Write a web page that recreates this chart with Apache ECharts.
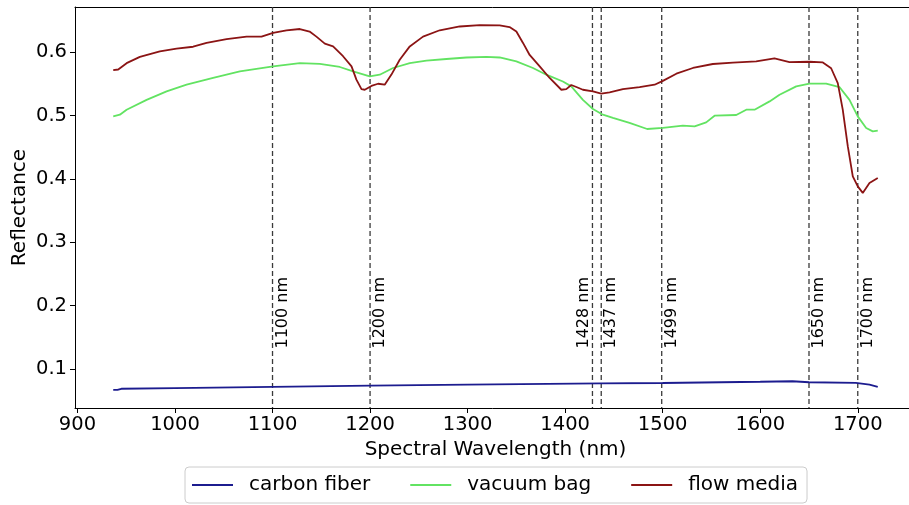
<!DOCTYPE html>
<html>
<head>
<meta charset="utf-8">
<script src="https://cdn.jsdelivr.net/npm/echarts@6/dist/echarts.min.js"></script>
<style>html,body{margin:0;padding:0;background:#fff}#c{width:909px;height:505px}</style>
</head>
<body>
<div id="c"></div>
<script>
// ---- data ----
const xTicks = [900, 1000, 1100, 1200, 1300, 1400, 1500, 1600, 1700];
const yTicks = [0.1, 0.2, 0.3, 0.4, 0.5, 0.6];

const carbonX = [936.7, 941, 945, 1000, 1100, 1200, 1300, 1437, 1500, 1600, 1633, 1650, 1698, 1712, 1720.5];
const carbonY = [0.0668, 0.0665, 0.0684, 0.0695, 0.0715, 0.0735, 0.075, 0.0768, 0.0775, 0.0795, 0.0803, 0.0787, 0.0777, 0.075, 0.0714];

const bagX = [936.7, 943.5, 950.4, 970.9, 991.4, 1011.9, 1039.1, 1066.5, 1100.6, 1128, 1148.5, 1169, 1182.6, 1199.7, 1209.9, 1223.6, 1240.7, 1257.8, 1278.3, 1298.8, 1319.3, 1332.9, 1350, 1367, 1380.7, 1397.7, 1406.3, 1418.2, 1428.5, 1438.7, 1449, 1466, 1484.1, 1500.2, 1520.7, 1532.7, 1544.6, 1553.2, 1575.4, 1585.7, 1594.2, 1609.6, 1619.8, 1636.9, 1650.5, 1667.6, 1681.2, 1691.5, 1700, 1708.6, 1715.4, 1720.5];
const bagY = [0.499, 0.5016, 0.5095, 0.525, 0.5384, 0.549, 0.5596, 0.570, 0.578, 0.583, 0.582, 0.577, 0.570, 0.562, 0.5648, 0.5754, 0.583, 0.587, 0.5896, 0.592, 0.593, 0.592, 0.5858, 0.5754, 0.5648, 0.554, 0.5463, 0.525, 0.5106, 0.5016, 0.4964, 0.4885, 0.479, 0.4806, 0.4842, 0.4831, 0.4894, 0.500, 0.5011, 0.5095, 0.5095, 0.5226, 0.5332, 0.5463, 0.5506, 0.5506, 0.5453, 0.525, 0.4989, 0.4806, 0.4752, 0.4763];

const mediaX = [936.7, 941.8, 950.4, 964, 984.5, 1001.6, 1018.6, 1032.4, 1052.9, 1073.4, 1088.7, 1100.6, 1114.3, 1128, 1138, 1145, 1153.6, 1162.1, 1172.3, 1181, 1186, 1191.2, 1194.6, 1201.4, 1208.2, 1215, 1221.9, 1230.4, 1240.7, 1254.3, 1271.4, 1292, 1312.4, 1332.9, 1343, 1350, 1356.8, 1363.6, 1373.9, 1384.1, 1396.1, 1401.2, 1406.3, 1411.5, 1418.2, 1428.5, 1437, 1445.6, 1459.2, 1476.3, 1491.7, 1500.2, 1514, 1531, 1551.4, 1572, 1595.9, 1614.6, 1630, 1650.5, 1664.2, 1672.7, 1679.5, 1684.6, 1689.8, 1694.9, 1700, 1705.1, 1712, 1720.5];
const mediaY = [0.572, 0.573, 0.583, 0.593, 0.6016, 0.606, 0.609, 0.615, 0.621, 0.625, 0.625, 0.631, 0.635, 0.637, 0.633, 0.625, 0.614, 0.6095, 0.594, 0.578, 0.557, 0.542, 0.541, 0.547, 0.5505, 0.549, 0.565, 0.5885, 0.6095, 0.625, 0.635, 0.641, 0.643, 0.6427, 0.640, 0.633, 0.615, 0.596, 0.578, 0.5596, 0.541, 0.542, 0.5485, 0.5453, 0.541, 0.5384, 0.5348, 0.5368, 0.542, 0.5453, 0.549, 0.555, 0.5664, 0.5754, 0.5817, 0.584, 0.5858, 0.5905, 0.5848, 0.5853, 0.5842, 0.575, 0.5516, 0.5095, 0.4515, 0.404, 0.3883, 0.378, 0.3937, 0.4016];

const markerWavelengths = [1100, 1200, 1428, 1437, 1499, 1650, 1700];
const markerLabels = ['1100 nm', '1200 nm', '1428 nm', '1437 nm', '1499 nm', '1650 nm', '1700 nm'];
const seriesNames = ['carbon fiber', 'vacuum bag', 'flow media'];
// ---- end data ----

const X_MIN = 897.5, X_MAX = 1759.7, Y_MIN = 0.038, Y_MAX = 0.6718;
const LABEL_Y = 0.132;
const leftLabeled = [1428];
const FONT = '"DejaVu Sans", sans-serif';

function zip(xs, ys) { return xs.map((x, i) => [x, ys[i]]); }

const chart = echarts.init(document.getElementById('c'), null, {renderer: 'canvas'});

const lineSeries = (name, xs, ys, color) => ({
  type: 'line', name, data: zip(xs, ys), showSymbol: false, symbol: 'none',
  lineStyle: {color, width: 1.8}, itemStyle: {color}, z: 3, animation: false
});

chart.setOption({
  animation: false,
  grid: {left: 75, top: 7, right: -7, bottom: 97, show: false, containLabel: false, outerBoundsMode: 'none'},
  xAxis: [{
    type: 'value', min: X_MIN, max: X_MAX,
    name: 'Spectral Wavelength (nm)', nameLocation: 'middle', nameGap: 30,
    nameTextStyle: {fontFamily: FONT, fontSize: 20, color: '#000'},
    axisLine: {show: true, lineStyle: {color: '#000', width: 1}},
    axisTick: {show: true, length: 5, lineStyle: {color: '#000'}, customValues: xTicks},
    axisLabel: {fontFamily: FONT, fontSize: 19.5, color: '#000', margin: 7, customValues: xTicks, formatter: v => String(Math.round(v))},
    splitLine: {show: false}
  }, {
    type: 'value', min: X_MIN, max: X_MAX, position: 'top',
    axisLine: {show: true, lineStyle: {color: '#000', width: 1}},
    axisTick: {show: false}, axisLabel: {show: false}, splitLine: {show: false}
  }],
  yAxis: {
    type: 'value', min: Y_MIN, max: Y_MAX,
    name: 'Reflectance', nameLocation: 'middle', nameGap: 45, nameMoveOverlap: false,
    nameTextStyle: {fontFamily: FONT, fontSize: 20, color: '#000'},
    axisLine: {show: true, lineStyle: {color: '#000', width: 1}},
    axisTick: {show: true, length: 5, lineStyle: {color: '#000'}, customValues: yTicks},
    axisLabel: {fontFamily: FONT, fontSize: 19.5, color: '#000', margin: 8, customValues: yTicks, formatter: v => v.toFixed(1)},
    splitLine: {show: false}
  },
  legend: {
    data: seriesNames,
    left: 185, top: 467,
    orient: 'horizontal',
    icon: 'rect',
    itemWidth: 41, itemHeight: 2, itemGap: 40,
    padding: [8, 9, 8, 7],
    borderColor: '#cccccc', borderWidth: 1, borderRadius: 4,
    backgroundColor: '#fff',
    textStyle: {fontFamily: FONT, fontSize: 20, color: '#000', padding: [0, 0, 0, 11]},
    selectedMode: false
  },
  series: [
    lineSeries(seriesNames[0], carbonX, carbonY, '#1c1c8f'),
    lineSeries(seriesNames[1], bagX, bagY, '#62e362'),
    lineSeries(seriesNames[2], mediaX, mediaY, '#8b1414'),
    {
      type: 'custom', name: 'markers', z: 2, silent: true,
      data: markerWavelengths.map((w, i) => [w, i]),
      encode: {x: 0},
      renderItem: function (params, api) {
        const w = api.value(0);
        const idx = api.value(1);
        const top = api.coord([w, Y_MAX]);
        const bot = api.coord([w, Y_MIN]);
        const lab = api.coord([w, LABEL_Y]);
        const left = leftLabeled.indexOf(w) >= 0;
        return {
          type: 'group',
          children: [
            {type: 'line', shape: {x1: top[0], y1: top[1], x2: bot[0], y2: bot[1]},
             style: {stroke: '#3a3a3a', lineWidth: 1.3, lineDash: [5, 3]}},
            {type: 'text', x: left ? lab[0] - 1 : lab[0] + 2, y: lab[1], rotation: Math.PI / 2,
             style: {text: markerLabels[idx], fill: '#000', font: '16px ' + FONT,
                     align: 'left', verticalAlign: left ? 'bottom' : 'top'}}
          ]
        };
      }
    }
  ]
});
</script>
</body>
</html>
